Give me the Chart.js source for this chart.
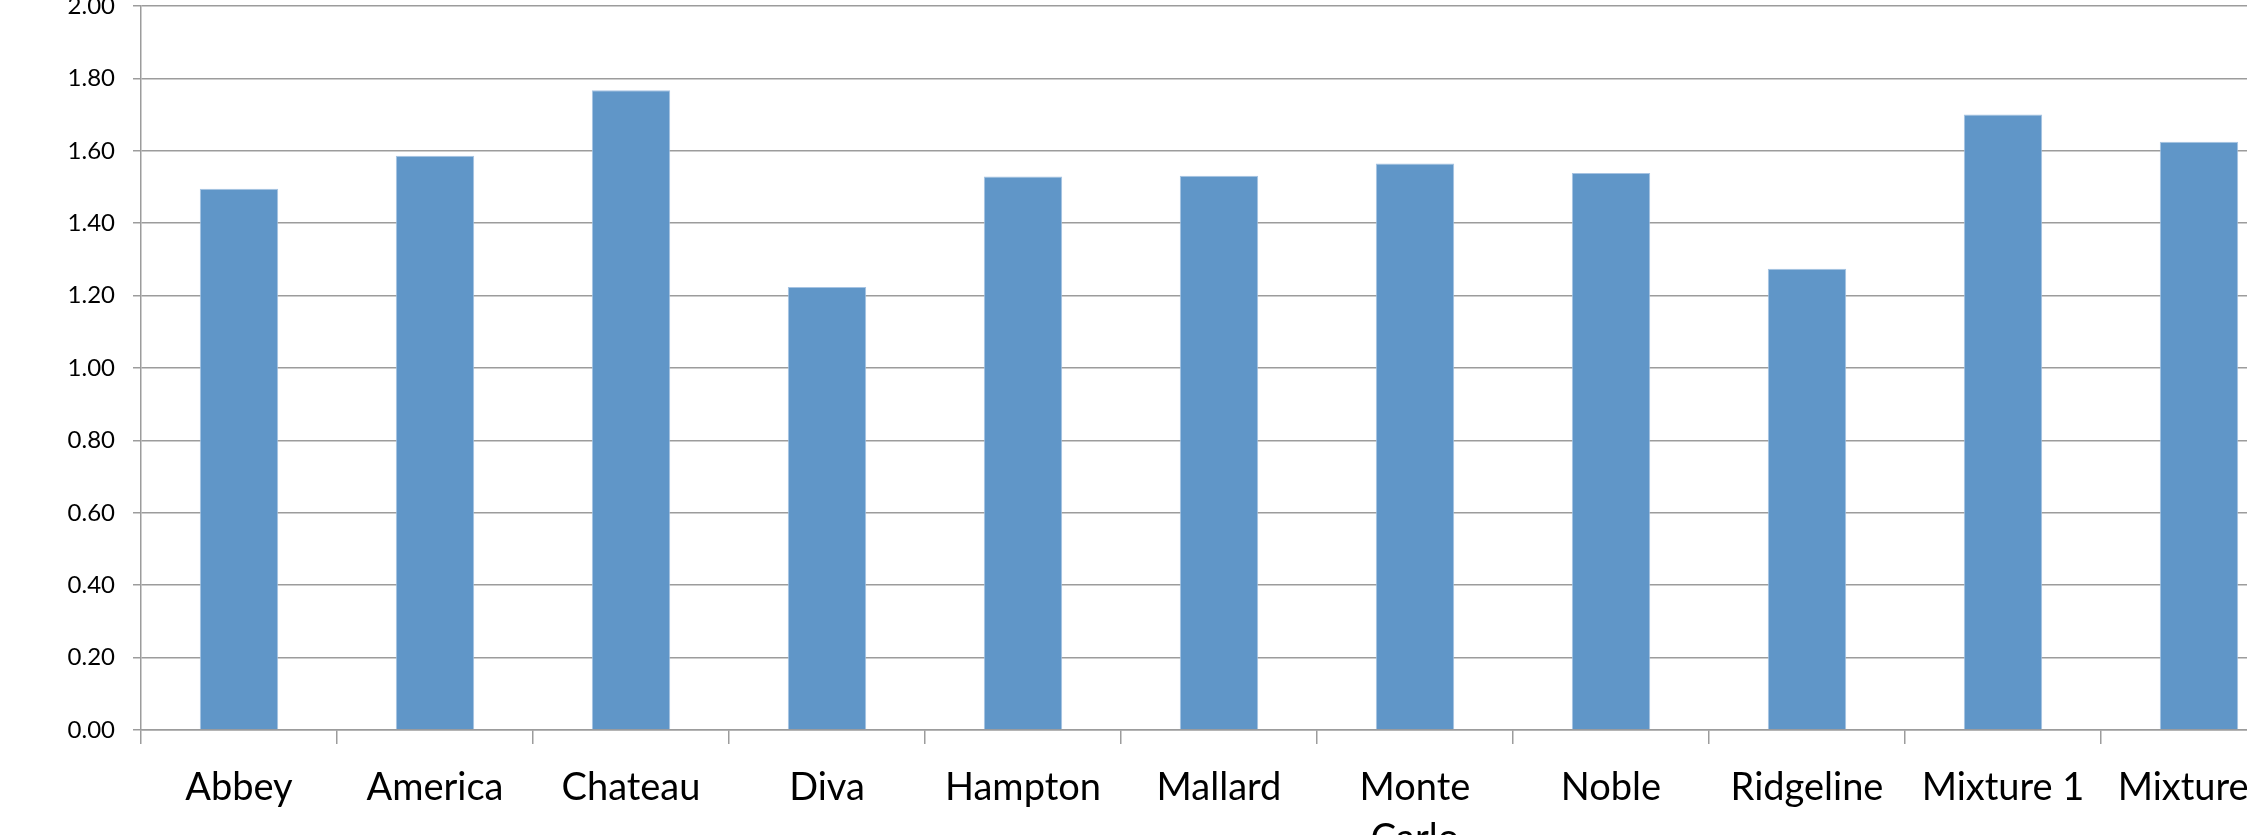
<!DOCTYPE html>
<html>
<head>
<meta charset="utf-8">
<title>Varieties</title>
<script src="https://cdn.jsdelivr.net/npm/chart.js@4/dist/chart.umd.min.js"></script>
<style>
  html, body { margin: 0; padding: 0; background: #ffffff; overflow: hidden; width: 2247px; height: 835px; }
  #wrap { position: absolute; left: 0; top: -30px; }
</style>
</head>
<body>
<div id="wrap"><canvas id="chart" width="2320" height="900"></canvas></div>
<script>
// Variety names along the category axis
const categories = [
  'Abbey', 'America', 'Chateau', 'Diva', 'Hampton', 'Mallard',
  ['Monte', 'Carlo'], 'Noble', 'Ridgeline', 'Mixture 1', 'Mixture 2'
];

// Mean value per variety
const values = [1.495, 1.586, 1.767, 1.224, 1.529, 1.531, 1.565, 1.539, 1.274, 1.700, 1.625];

// Value axis range and step
const yMin = 0;
const yMax = 2;
const yStep = 0.2;

const gridColor = '#9c9c9c';
const labelFont = "Lato, 'Open Sans', sans-serif";

new Chart(document.getElementById('chart'), {
  type: 'bar',
  data: {
    labels: categories,
    datasets: [{
      data: values,
      backgroundColor: '#6096c8',
      borderColor: '#a6c3e2',
      borderWidth: 1,
      borderSkipped: 'bottom',
      categoryPercentage: 1.0,
      barPercentage: 0.4
    }]
  },
  options: {
    responsive: false,
    animation: false,
    devicePixelRatio: 1,
    layout: { padding: { top: 36, right: 23, left: 0, bottom: 0 } },
    plugins: {
      legend: { display: false },
      tooltip: { enabled: false }
    },
    scales: {
      x: {
        offset: true,
        grid: {
          offset: true,
          drawOnChartArea: false,
          drawTicks: true,
          tickLength: 14,
          color: gridColor,
          lineWidth: 1.5
        },
        border: { display: true, color: gridColor, width: 1.5 },
        ticks: {
          color: '#000000',
          padding: 18,
          maxRotation: 0,
          autoSkip: false,
          font: { family: labelFont, size: 38, lineHeight: 1.34 }
        },
        afterFit: (scale) => { scale.height = 140; }
      },
      y: {
        min: yMin,
        max: yMax,
        grid: {
          color: gridColor,
          lineWidth: 1.5,
          drawTicks: true,
          tickLength: 8
        },
        border: { display: true, color: gridColor, width: 1.5 },
        ticks: {
          stepSize: yStep,
          color: '#000000',
          padding: 18,
          font: { family: labelFont, size: 24 },
          callback: (v) => Number(v).toFixed(2)
        },
        afterFit: (scale) => { scale.width = 141; }
      }
    }
  }
});
</script>
</body>
</html>
